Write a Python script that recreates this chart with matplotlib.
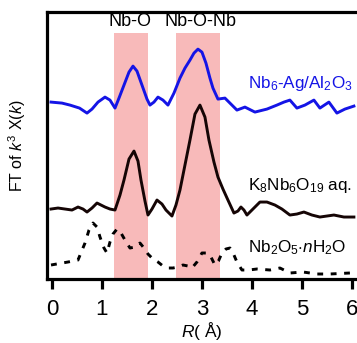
import matplotlib
matplotlib.use("Agg")
import matplotlib.pyplot as plt

plt.rcParams['font.family'] = ['Liberation Sans', 'DejaVu Sans']
plt.rcParams['mathtext.fontset'] = 'custom'
plt.rcParams['mathtext.rm'] = 'Liberation Sans'
plt.rcParams['mathtext.it'] = 'Liberation Sans:italic'

# Nb6-Ag/Al2O3 (blue, offset top)
r_blue = [-0.02, 0.20, 0.36, 0.55, 0.70, 0.80, 0.92, 1.06, 1.16, 1.26, 1.34, 1.44,
          1.54, 1.62, 1.70, 1.80, 1.90, 1.96, 2.04, 2.12, 2.22, 2.32, 2.44, 2.56,
          2.66, 2.76, 2.84, 2.92, 3.00, 3.08, 3.16, 3.22, 3.32, 3.46, 3.58, 3.70,
          3.86, 4.06, 4.30, 4.50, 4.64, 4.76, 4.90, 5.06, 5.24, 5.36, 5.54, 5.70,
          5.86, 6.04]
y_blue = [177, 176, 174, 171, 166, 170, 177, 182, 179, 171, 181, 194,
          207, 213, 208, 194, 180, 174, 177, 182, 179, 174, 186, 201,
          211, 219, 226, 230, 227, 216, 201, 191, 180, 181, 175, 169,
          172, 167, 170, 174, 177, 179, 171, 174, 179, 171, 177, 166,
          170, 173]

# K8Nb6O19 aq. (black, middle)
r_black = [-0.02, 0.12, 0.26, 0.40, 0.52, 0.62, 0.70, 0.80, 0.90, 0.98, 1.06, 1.16,
           1.26, 1.36, 1.44, 1.54, 1.64, 1.72, 1.78, 1.86, 1.92, 2.00, 2.10, 2.20,
           2.28, 2.40, 2.48, 2.56, 2.66, 2.76, 2.86, 2.96, 3.06, 3.14, 3.24, 3.32,
           3.42, 3.52, 3.64, 3.72, 3.78, 3.84, 3.90, 4.02, 4.16, 4.30, 4.46, 4.60,
           4.76, 4.90, 5.04, 5.20, 5.36, 5.50, 5.64, 5.84, 6.04]
y_black = [70, 71, 70, 69, 72, 70, 67, 71, 76, 74, 72, 70,
           69, 84, 99, 120, 128, 118, 99, 78, 64, 70, 79, 75,
           69, 63, 74, 89, 114, 139, 165, 174, 162, 139, 117, 102,
           90, 79, 66, 68, 72, 69, 64, 70, 77, 77, 74, 70,
           64, 65, 67, 64, 62, 63, 64, 62, 62]

# Nb2O5.nH2O (dashed, bottom)
r_dash = [-0.02, 0.32, 0.52, 0.66, 0.74, 0.82, 0.90, 0.96, 1.04, 1.10, 1.16, 1.22,
          1.30, 1.38, 1.46, 1.56, 1.66, 1.76, 1.84, 1.92, 2.02, 2.12, 2.22, 2.32,
          2.42, 2.52, 2.62, 2.72, 2.80, 2.90, 3.00, 3.08, 3.16, 3.26, 3.33, 3.40,
          3.48, 3.56, 3.64, 3.70, 3.80, 3.94, 4.10, 4.36, 4.56, 4.76, 5.02, 5.30,
          5.56, 5.96]
y_dash = [14, 17, 19, 36, 49, 56, 52, 42, 31, 26, 37, 45,
          50, 46, 39, 31, 32, 36, 31, 25, 20, 17, 13, 11,
          11, 12, 14, 13, 11, 17, 26, 26, 24, 14, 18, 26,
          30, 31, 24, 17, 9, 9, 10, 9, 11, 6, 7, 5,
          5, 6]

bands = [(1.24, 1.92), (2.48, 3.36)]
band_labels = ["Nb-O", "Nb-O-Nb"]
xticks = [0, 1, 2, 3, 4, 5, 6]

fig = plt.figure(figsize=(3.57, 3.43), dpi=100)
ax = fig.add_axes([0.1317, 0.1866, 0.868, 0.778])

for (a, b) in bands:
    ax.fill_between([a, b], 0, 246, color='#f8baba', lw=0, zorder=0)
ax.text(1.57, 258, band_labels[0], ha='center', va='center', fontsize=13)
ax.text(2.98, 258, band_labels[1], ha='center', va='center', fontsize=13)

ax.plot(r_blue, y_blue, color='#1414e6', lw=2.1, solid_joinstyle='round')
ax.plot(r_black, y_black, color='#150505', lw=2.1, solid_joinstyle='round')
ax.plot(r_dash, y_dash, color='black', lw=2.1, ls=(0, (2.0, 2.6)))

ax.text(3.93, 196, r'Nb$_6$-Ag/Al$_2$O$_3$', color='#1414e6', fontsize=12.3, va='center')
ax.text(3.93, 94, r'K$_8$Nb$_6$O$_{19}$ aq.', color='black', fontsize=12.3, va='center')
ax.text(3.93, 31, r'Nb$_2$O$_5$$\cdot$$n$H$_2$O', color='black', fontsize=12.3, va='center')

ax.set_xlim(-0.1, 6.1)
ax.set_ylim(0, 267)
ax.set_xticks(xticks)
ax.set_yticks([])
ax.tick_params(axis='x', direction='out', length=7.5, width=2.3, labelsize=16, pad=7)
for s in ['left', 'bottom', 'top']:
    ax.spines[s].set_linewidth(2.3)
ax.spines['right'].set_visible(False)

ax.set_xlabel(r'$R$( Å)', fontsize=12.5, labelpad=0)
ax.set_ylabel(r'FT of $k^3$ X($k$)', fontsize=11.5, labelpad=14)

fig.savefig('out.png', dpi=100)
